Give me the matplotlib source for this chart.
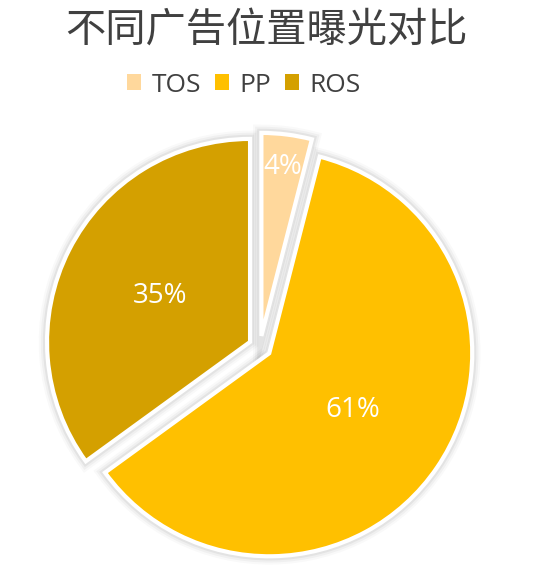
import numpy as np
import matplotlib
matplotlib.use('Agg')
from matplotlib import pyplot as plt
from matplotlib import patheffects as pe
from matplotlib.patches import Patch

# data
title = "不同广告位置曝光对比"
labels = ["TOS", "PP", "ROS"]
shares = [4, 61, 35]
colors = ["#FFD89C", "#FFC000", "#D4A000"]

W, H = 541, 578
cx, cy = 260, 347      # pie centre in pixels (from top-left)
scale = 203.0          # pixels per data unit

fig = plt.figure(figsize=(W / 100, H / 100), dpi=100)
ax = fig.add_axes([0, 0, 1, 1])

wedges, texts, autotexts = ax.pie(
    shares, colors=colors, startangle=90, counterclock=False,
    explode=[0.055] * len(shares), radius=1.0,
    autopct='%1.0f%%', pctdistance=0.5,
    wedgeprops=dict(edgecolor='white', linewidth=3),
    textprops=dict(color='white', fontsize=20, family='Open Sans'))

# soft grey glow round each slice
for w in wedges:
    w.set_path_effects([
        pe.Stroke(linewidth=12, foreground='#000000', alpha=0.025),
        pe.Stroke(linewidth=9, foreground='#000000', alpha=0.035),
        pe.Stroke(linewidth=6, foreground='#000000', alpha=0.05),
        pe.Normal()])

# small TOS slice: label sits further out
w0 = wedges[0]
mid = np.deg2rad((w0.theta1 + w0.theta2) / 2)
ox, oy = w0.center
autotexts[0].set_position((ox + 0.84 * np.cos(mid), oy + 0.84 * np.sin(mid)))

ax.set_xlim(-cx / scale, (W - cx) / scale)
ax.set_ylim(-(H - cy) / scale, cy / scale)
ax.set_aspect('auto')
ax.axis('off')

fig.text(266 / W, 1 - 30 / H, title, ha='center', va='center', fontsize=29,
         color='#404040', family=['Noto Sans CJK SC', 'DejaVu Sans'])

handles = [Patch(facecolor=c, edgecolor='none') for c in colors]
fig.legend(handles, labels, loc='center', bbox_to_anchor=(244 / W, 1 - 85 / H),
           ncol=3, frameon=False, prop=dict(family='Open Sans', size=19),
           labelcolor='#404040', handlelength=0.55, handleheight=0.55,
           handletextpad=0.4, columnspacing=0.5, borderaxespad=0)

fig.savefig('out.png', dpi=100, facecolor='white')
